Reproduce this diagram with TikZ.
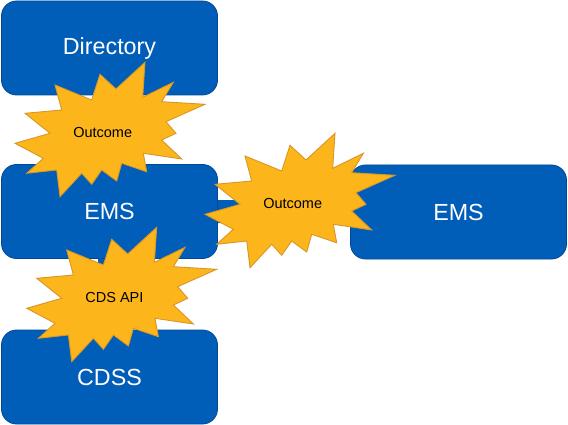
\documentclass[tikz,border=0pt]{standalone}
\usepackage{fontspec}
\setmainfont{Liberation Sans}
\usetikzlibrary{backgrounds}
\definecolor{boxblue}{RGB}{0,94,184}
\definecolor{boxedge}{RGB}{0,72,150}
\definecolor{starfill}{RGB}{252,182,28}
\definecolor{staredge}{RGB}{214,150,40}
\tikzset{
  box/.style={draw=boxedge, line width=0.8pt, fill=boxblue, rounded corners=15pt,
    minimum width=216pt, minimum height=94pt, text=white, font=\fontsize{23.3}{27}\selectfont, inner sep=0pt},
  conn/.style={draw=boxblue, line width=23pt},
  starshape/.style={draw=staredge, line width=0.9pt, fill=starfill, line join=miter},
  startext/.style={text=black, font=\fontsize{14.5}{17}\selectfont, inner sep=0pt}
}
\begin{document}
\begin{tikzpicture}[x=1pt,y=-1pt]
\useasboundingbox (0,0) rectangle (568,425);
\node[box] (dir)  at (109.5,48)  {Directory};
\node[box] (ems1) at (109.5,211.5) {EMS};
\node[box] (ems2) at (458.5,212) {EMS};
\node[box] (cdss) at (109.5,377) {CDSS};
\begin{scope}[on background layer]
\draw[conn] (dir) -- (ems1);
\draw[conn] (ems1) -- (cdss);
\draw[conn] (ems1) -- (ems2);
\end{scope}
\foreach \dx/\dy/\nm/\txt in {0/0/out1/Outcome, 190/71/out2/Outcome, 11.7/165/cdsapi/CDS API} {
  \begin{scope}[shift={(\dx,\dy)}]
  \draw[starshape] (145,62.3) -- (142.7,97.3) -- (173.3,82.3) -- (161.7,101.7) -- (205,104.3)
    -- (166,121.7) -- (176,133.3) -- (161.7,140) -- (181.7,159) -- (143.3,153.3)
    -- (146.7,171.7) -- (121.7,163.3) -- (116.7,181) -- (101.7,170) -- (91.7,184.3)
    -- (81.7,173.3) -- (60,196.7) -- (56.7,170) -- (26.7,173.3) -- (43.3,158.3)
    -- (15,143.3) -- (50,133.3) -- (25,113.3) -- (61.7,110) -- (55,85)
    -- (91.7,100) -- (100,74.3) -- (116,89) -- cycle;
  \node[startext] (\nm) at (102.7,132.3) {\txt};
  \end{scope}
}
\end{tikzpicture}
\end{document}
